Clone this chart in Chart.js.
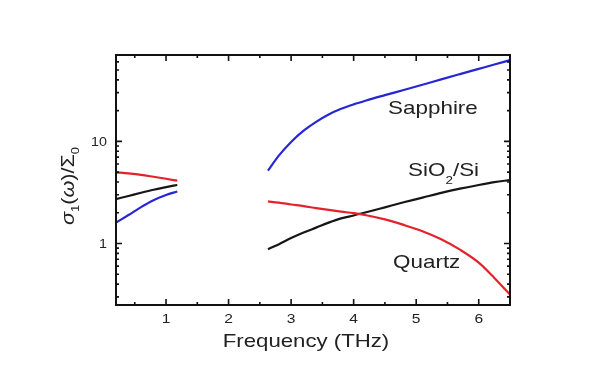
<!DOCTYPE html>
<html><head><meta charset="utf-8">
<script src="https://cdn.jsdelivr.net/npm/chart.js@4.4.1/dist/chart.umd.min.js"></script>
<style>html,body{margin:0;padding:0;background:#fff;}#wrap{width:600px;height:372px;}</style>
</head><body><div id="wrap"><canvas id="c" width="600" height="372"></canvas></div>
<script>
// ---- data ----
const lowFreq  = [0.2, 0.4, 0.6, 0.8, 1.0, 1.18];
const highFreq = [2.63, 2.8, 3.0, 3.2, 3.4, 3.6, 3.8, 4.0, 4.2, 4.5, 4.8, 5.1, 5.4, 5.7, 6.0, 6.25, 6.5];
const sapphireLow  = [1.6, 1.9, 2.27, 2.65, 2.98, 3.23];
const sapphireHigh = [5.16, 7.2, 9.85, 12.7, 15.5, 18.3, 20.8, 23.0, 25.1, 28.3, 31.8, 35.8, 40.4, 45.5, 51.2, 56.5, 62.4];
const sio2Low  = [2.72, 2.92, 3.14, 3.36, 3.56, 3.74];
const sio2High = [0.88, 0.98, 1.13, 1.28, 1.43, 1.6, 1.76, 1.88, 2.02, 2.26, 2.53, 2.81, 3.13, 3.44, 3.74, 3.98, 4.18];
const quartzLow  = [4.97, 4.85, 4.7, 4.5, 4.3, 4.12];
const quartzHigh = [2.58, 2.51, 2.41, 2.32, 2.22, 2.13, 2.05, 1.98, 1.89, 1.72, 1.52, 1.32, 1.10, 0.87, 0.65, 0.46, 0.316];
const xTickLabels = [1, 2, 3, 4, 5, 6];
const xMinorTicks = [0.5, 1.5, 2.5, 3.5, 4.5, 5.5];
const yTickLabels = [1, 10];
const yMinorTicks = [0.3, 0.4, 0.5, 0.6, 0.7, 0.8, 0.9, 2, 3, 4, 5, 6, 7, 8, 9, 20, 30, 40, 50, 60];
const xTitle = 'Frequency (THz)';
const seriesLabels = [
  {parts: [{t: 'Sapphire'}], x: 4.55, y: 18.6},
  {parts: [{t: 'SiO'}, {t: '2', sub: true}, {t: '/Si'}], x: 4.87, y: 4.6},
  {parts: [{t: 'Quartz'}], x: 4.63, y: 0.57}
];

const RED = '#e3232b', BLUE = '#2626d4', BLACK = '#161616';
const FONT = "'Liberation Sans', Arial, sans-serif";

function mk(xs, ys, color) {
  return {data: xs.map((x, i) => ({x: x, y: ys[i]})), borderColor: color, borderWidth: 2.2,
          pointRadius: 0, cubicInterpolationMode: 'monotone', fill: false};
}

function richWidth(ctx, parts, size, sx) {
  let w = 0;
  for (const p of parts) {
    const s = p.sub ? size * 0.6 : size;
    ctx.font = (p.it ? 'italic ' : '') + s + 'px ' + FONT;
    w += ctx.measureText(p.t).width * sx;
  }
  return w;
}
function drawRich(ctx, parts, x, y, size, sx, subShift) {
  let cx = x;
  for (const p of parts) {
    const s = p.sub ? size * 0.6 : size;
    ctx.font = (p.it ? 'italic ' : '') + s + 'px ' + FONT;
    ctx.save();
    ctx.translate(cx, y + (p.sub ? size * subShift : 0));
    ctx.scale(sx, 1);
    ctx.textAlign = 'left';
    ctx.fillText(p.t, 0, 0);
    ctx.restore();
    cx += ctx.measureText(p.t).width * sx;
  }
}

const framePlugin = {
  id: 'frame',
  afterDraw(chart) {
    const {ctx, chartArea: a, scales: {x, y}} = chart;
    ctx.save();
    ctx.strokeStyle = '#111';
    ctx.lineWidth = 2;
    ctx.strokeRect(a.left, a.top, a.right - a.left, a.bottom - a.top);
    ctx.lineWidth = 1.6;
    ctx.beginPath();
    const xt = (v, len) => {
      const p = x.getPixelForValue(v);
      ctx.moveTo(p, a.bottom); ctx.lineTo(p, a.bottom - len);
      ctx.moveTo(p, a.top); ctx.lineTo(p, a.top + len);
    };
    const yt = (v, len) => {
      const p = y.getPixelForValue(v);
      ctx.moveTo(a.left, p); ctx.lineTo(a.left + len, p);
      ctx.moveTo(a.right, p); ctx.lineTo(a.right - len, p);
    };
    xTickLabels.forEach(v => xt(v, 6));
    xMinorTicks.forEach(v => xt(v, 3));
    yTickLabels.forEach(v => yt(v, 6));
    yMinorTicks.forEach(v => yt(v, 3));
    ctx.stroke();

    ctx.fillStyle = '#222';
    ctx.textBaseline = 'alphabetic';
    // x tick labels
    ctx.font = '13px ' + FONT;
    xTickLabels.forEach(v => {
      const p = x.getPixelForValue(v);
      ctx.save(); ctx.translate(p, a.bottom + 18); ctx.scale(1.2, 1);
      ctx.textAlign = 'center'; ctx.fillText(String(v), 0, 0); ctx.restore();
    });
    // y tick labels
    yTickLabels.forEach(v => {
      const p = y.getPixelForValue(v);
      ctx.save(); ctx.translate(a.left - 9, p + 5); ctx.scale(1.1, 1);
      ctx.textAlign = 'right'; ctx.fillText(String(v), 0, 0); ctx.restore();
    });
    // x title
    ctx.font = '18.5px ' + FONT;
    ctx.save(); ctx.translate(a.left + (a.right - a.left) / 2 - 7, a.bottom + 42); ctx.scale(1.2, 1);
    ctx.textAlign = 'center'; ctx.fillText(xTitle, 0, 0); ctx.restore();
    // y title
    const yParts = [{t: 'σ', it: true}, {t: '1', sub: true}, {t: '('}, {t: 'ω', it: true}, {t: ')'},
                    {t: '/'}, {t: 'Σ'}, {t: '0', sub: true}];
    ctx.save();
    ctx.translate(74, 186);
    ctx.rotate(-Math.PI / 2);
    const yw = richWidth(ctx, yParts, 18, 1.2);
    drawRich(ctx, yParts, -yw / 2, 0, 18, 1.2, 0.3);
    ctx.restore();
    // series labels
    seriesLabels.forEach(l => {
      const px = x.getPixelForValue(l.x), py = y.getPixelForValue(l.y);
      drawRich(ctx, l.parts, px, py, 19, 1.18, 0.45);
    });
    ctx.restore();
  }
};

new Chart(document.getElementById('c'), {
  type: 'line',
  data: {
    datasets: [
      mk(lowFreq, quartzLow, RED), mk(highFreq, quartzHigh, RED),
      mk(lowFreq, sio2Low, BLACK), mk(highFreq, sio2High, BLACK),
      mk(lowFreq, sapphireLow, BLUE), mk(highFreq, sapphireHigh, BLUE)
    ]
  },
  options: {
    responsive: false, animation: false,
    layout: {padding: {top: 55, right: 90, left: 0, bottom: 0}},
    plugins: {legend: {display: false}, tooltip: {enabled: false}},
    scales: {
      x: {type: 'linear', min: 0.2, max: 6.5, ticks: {display: false}, grid: {display: false},
          border: {display: false}, afterFit: s => { s.height = 67; }},
      y: {type: 'logarithmic', min: 0.25, max: 70, ticks: {display: false}, grid: {display: false},
          border: {display: false}, afterFit: s => { s.width = 116; }}
    }
  },
  plugins: [framePlugin]
});
</script></body></html>
